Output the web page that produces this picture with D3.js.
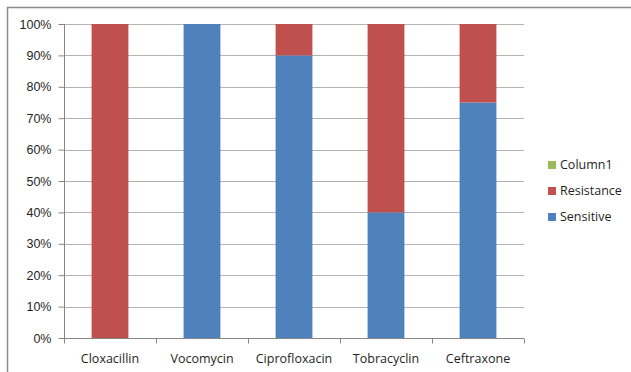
<!DOCTYPE html>
<html>
<head>
<meta charset="utf-8">
<script src="https://cdn.jsdelivr.net/npm/d3@7"></script>
<style>
  body { margin: 0; background: #fff; }
  svg { display: block; font-family: "Open Sans", "Liberation Sans", sans-serif; }
  .axis text { fill: #1f1f1f; font-size: 12.5px; }
  .axis path, .axis line { stroke: #868686; }
  .grid line { stroke: #b3b3b3; }
</style>
</head>
<body>
<svg id="chart"></svg>
<script>
// antibiotic susceptibility, percent of isolates
const drugs = ['Cloxacillin', 'Vocomycin', 'Ciprofloxacin', 'Tobracyclin', 'Ceftraxone'];
const sensitive = [0, 100, 90, 40, 75];
const resistance = [100, 0, 10, 60, 25];
const column1 = [0, 0, 0, 0, 0];
const seriesNames = ['Sensitive', 'Resistance', 'Column1'];
const seriesColors = ['#4f81bd', '#c0504d', '#9bbb59'];
const yTicks = [0, 10, 20, 30, 40, 50, 60, 70, 80, 90, 100];

const width = 631, height = 372;
const margin = {top: 24, right: 107, bottom: 34, left: 64};
const innerW = width - margin.left - margin.right;
const innerH = height - margin.top - margin.bottom;

const svg = d3.select('#chart')
    .attr('width', width)
    .attr('height', height);

// outer chart frame (only top and left edges show in the picture)
svg.append('path')
    .attr('d', `M7.5,${height} V7.5 H${width}`)
    .attr('fill', 'none')
    .attr('stroke', '#8c8c8c')
    .attr('stroke-width', 1.5);

const chart = svg.append('g')
    .attr('transform', `translate(${margin.left},${margin.top})`);

const xScale = d3.scaleBand()
    .domain(drugs)
    .range([0, innerW])
    .paddingInner(0.6)
    .paddingOuter(0.3);

const yScale = d3.scaleLinear()
    .domain([0, 100])
    .range([innerH, 0]);

// gridlines
chart.append('g')
    .attr('class', 'grid')
    .selectAll('line')
    .data(yTicks.filter(d => d > 0))
  .join('line')
    .attr('x1', 0)
    .attr('x2', innerW)
    .attr('y1', d => Math.round(yScale(d)) + 0.5)
    .attr('y2', d => Math.round(yScale(d)) + 0.5);

// stacked bars
const table = drugs.map((d, i) => ({
    drug: d,
    Sensitive: sensitive[i],
    Resistance: resistance[i],
    Column1: column1[i]
}));
const stacked = d3.stack().keys(seriesNames)(table);

chart.selectAll('.series')
    .data(stacked)
  .join('g')
    .attr('class', 'series')
    .attr('fill', (d, i) => seriesColors[i])
    .selectAll('rect')
    .data(d => d)
  .join('rect')
    .attr('x', d => xScale(d.data.drug))
    .attr('width', xScale.bandwidth())
    .attr('y', d => yScale(d[1]))
    .attr('height', d => yScale(d[0]) - yScale(d[1]));

// axes
const yAxis = d3.axisLeft(yScale)
    .tickValues(yTicks)
    .tickSize(5)
    .tickPadding(8)
    .tickFormat(d => d + '%');

chart.append('g')
    .attr('class', 'axis y-axis')
    .attr('transform', 'translate(0.5,0)')
    .call(yAxis)
    .call(g => g.selectAll('.tick line').attr('x2', -6))
    .call(g => g.select('.domain').attr('d', `M0,0V${innerH}`));

// category axis: ticks sit at band boundaries
const step = innerW / drugs.length;
const xAxisG = chart.append('g')
    .attr('class', 'axis x-axis')
    .attr('transform', `translate(0,${innerH + 0.5})`);

xAxisG.append('line')
    .attr('x1', 0).attr('x2', innerW);

xAxisG.selectAll('.tick-mark')
    .data(d3.range(drugs.length + 1))
  .join('line')
    .attr('class', 'tick-mark')
    .attr('x1', i => Math.round(i * step) + 0.5)
    .attr('x2', i => Math.round(i * step) + 0.5)
    .attr('y1', 0)
    .attr('y2', 5);

xAxisG.selectAll('text')
    .data(drugs)
  .join('text')
    .attr('x', d => xScale(d) + xScale.bandwidth() / 2)
    .attr('y', 24)
    .attr('text-anchor', 'middle')
    .text(d => d);

// legend, top to bottom: Column1, Resistance, Sensitive
const legendItems = seriesNames.map((n, i) => ({name: n, color: seriesColors[i]})).reverse();
const legend = svg.append('g')
    .attr('transform', 'translate(548,165)');

const item = legend.selectAll('g')
    .data(legendItems)
  .join('g')
    .attr('transform', (d, i) => `translate(0,${i * 26})`);

item.append('rect')
    .attr('x', 0)
    .attr('y', -4)
    .attr('width', 8)
    .attr('height', 8)
    .attr('fill', d => d.color);

item.append('text')
    .attr('x', 12)
    .attr('y', 0)
    .attr('dy', '0.35em')
    .attr('fill', '#1f1f1f')
    .style('font-size', '12.5px')
    .text(d => d.name);
</script>
</body>
</html>
